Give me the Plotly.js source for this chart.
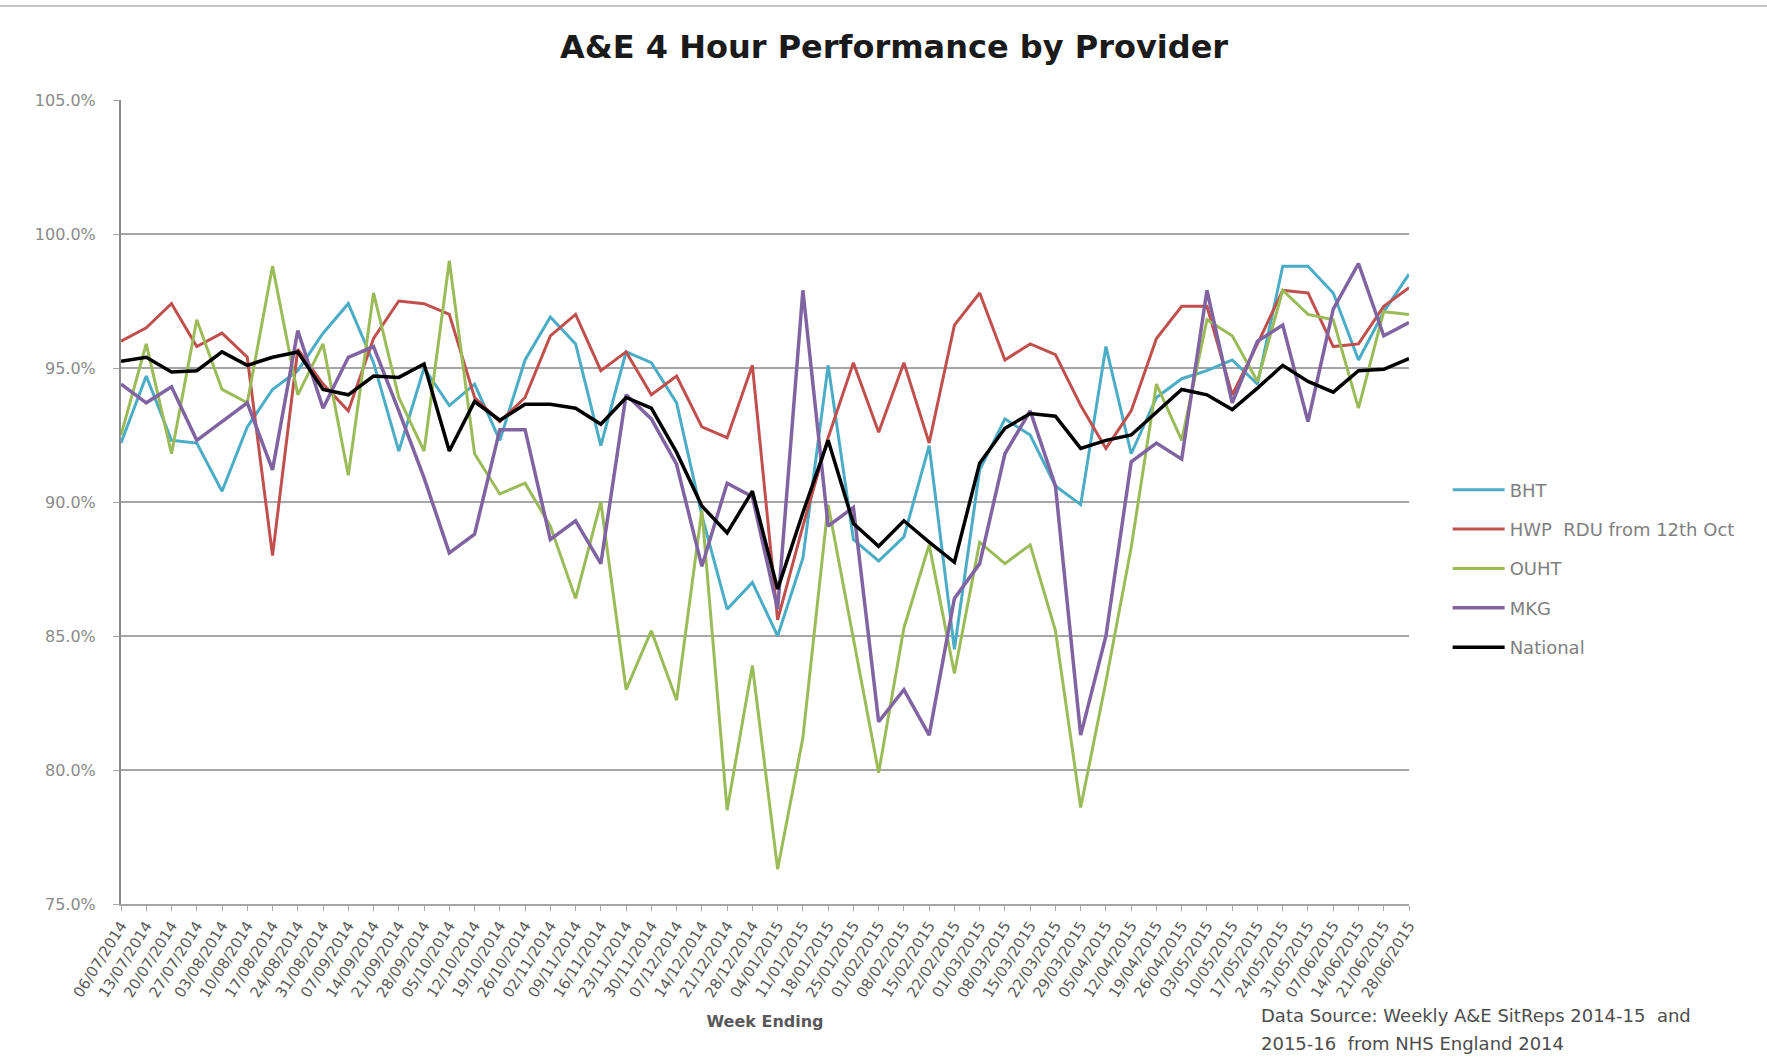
<!DOCTYPE html>
<html>
<head>
<meta charset="utf-8">
<script src="https://cdn.plot.ly/plotly-3.0.1.min.js"></script>
<style>
html,body{margin:0;padding:0;background:#fff;}
#chart{width:1767px;height:1058px;}
</style>
</head>
<body>
<div id="chart"></div>
<script>
const weeks = ["06/07/2014","13/07/2014","20/07/2014","27/07/2014","03/08/2014","10/08/2014","17/08/2014","24/08/2014","31/08/2014","07/09/2014","14/09/2014","21/09/2014","28/09/2014","05/10/2014","12/10/2014","19/10/2014","26/10/2014","02/11/2014","09/11/2014","16/11/2014","23/11/2014","30/11/2014","07/12/2014","14/12/2014","21/12/2014","28/12/2014","04/01/2015","11/01/2015","18/01/2015","25/01/2015","01/02/2015","08/02/2015","15/02/2015","22/02/2015","01/03/2015","08/03/2015","15/03/2015","22/03/2015","29/03/2015","05/04/2015","12/04/2015","19/04/2015","26/04/2015","03/05/2015","10/05/2015","17/05/2015","24/05/2015","31/05/2015","07/06/2015","14/06/2015","21/06/2015","28/06/2015"];

const bht = [92.2,94.7,92.3,92.2,90.4,92.8,94.2,94.9,96.3,97.4,95.2,91.9,95.0,93.6,94.4,92.3,95.3,96.9,95.9,92.1,95.6,95.2,93.7,89.5,86.0,87.0,85.0,87.9,95.1,88.6,87.8,88.7,92.1,84.5,91.2,93.1,92.5,90.6,89.9,95.8,91.8,93.9,94.6,94.9,95.3,94.4,98.8,98.8,97.8,95.3,97.1,98.5];
const hwp = [96.0,96.5,97.4,95.8,96.3,95.4,88.0,95.7,94.4,93.4,96.1,97.5,97.4,97.0,93.9,93.0,93.9,96.2,97.0,94.9,95.6,94.0,94.7,92.8,92.4,95.1,85.6,89.1,92.4,95.2,92.6,95.2,92.2,96.6,97.8,95.3,95.9,95.5,93.6,92.0,93.4,96.1,97.3,97.3,94.0,95.9,97.9,97.8,95.8,95.9,97.3,98.0];
const ouht = [92.5,95.9,91.8,96.8,94.2,93.7,98.8,94.0,95.9,91.0,97.8,93.9,91.9,99.0,91.8,90.3,90.7,89.1,86.4,90.0,83.0,85.2,82.6,89.7,78.5,83.9,76.3,81.2,89.9,84.9,79.9,85.3,88.4,83.6,88.5,87.7,88.4,85.2,78.6,83.3,88.3,94.4,92.3,96.8,96.2,94.5,97.9,97.0,96.8,93.5,97.1,97.0];
const mkg = [94.4,93.7,94.3,92.3,93.0,93.7,91.2,96.4,93.5,95.4,95.8,93.4,90.9,88.1,88.8,92.7,92.7,88.6,89.3,87.7,94.0,93.1,91.4,87.6,90.7,90.2,86.0,97.9,89.1,89.8,81.8,83.0,81.3,86.4,87.7,91.8,93.4,90.6,81.3,85.0,91.5,92.2,91.6,97.9,93.7,96.0,96.6,93.0,97.2,98.9,96.2,96.7];
const national = [95.25,95.4,94.85,94.9,95.6,95.1,95.4,95.6,94.2,94.0,94.7,94.65,95.15,91.9,93.75,93.05,93.65,93.65,93.5,92.9,93.9,93.5,91.85,89.85,88.85,90.4,86.75,89.6,92.3,89.2,88.35,89.3,88.5,87.75,91.45,92.75,93.3,93.2,92.0,92.3,92.5,93.35,94.2,94.0,93.45,94.25,95.1,94.5,94.1,94.9,94.95,95.35];

const seriesNames = ["BHT","HWP  RDU from 12th Oct","OUHT","MKG","National"];
const yTicks = [75,80,85,90,95,100,105];
const yTickText = yTicks.map(v => v.toFixed(1) + '%');

const colors = ["#4bacc6","#c0504d","#9bbb59","#8064a2","#000000"];
const widths = [3,3,3,3.5,3.5];
const allData = [bht,hwp,ouht,mkg,national];

const traces = allData.map((vals,i)=>({
  type:'scatter', mode:'lines', x:weeks, y:vals, name:seriesNames[i],
  legendgroup:'g'+i,
  line:{color:colors[i], width:widths[i]},
  hoverinfo:'x+y+name'
}));

const layout = {
  width:1767, height:1058,
  paper_bgcolor:'#ffffff', plot_bgcolor:'#ffffff',
  margin:{l:121, r:358, t:100, b:154},
  font:{family:'DejaVu Sans, sans-serif', color:'#595959'},
  title:{text:'A&E 4 Hour Performance by Provider', x:0.506, xanchor:'center', y:0.956, yanchor:'middle',
         font:{family:'DejaVu Sans, sans-serif', size:32, color:'#1a1a1a', weight:'bold'}},
  showlegend:true,
  legend:{x:1.03, xanchor:'left', y:0.538, yanchor:'top', tracegroupgap:13, itemwidth:52,
          font:{size:18, color:'#7f7f7f'}, bgcolor:'rgba(0,0,0,0)', traceorder:'grouped'},
  xaxis:{type:'category', range:[0,51], showgrid:false, zeroline:false,
         showline:true, linecolor:'#a6a6a6', linewidth:2,
         ticks:'outside', ticklen:5, tickcolor:'#a6a6a6', tickwidth:1,
         tickangle:-58, tickfont:{size:15, color:'#595959'},
         title:{text:'Week Ending', font:{size:16, color:'#595959', weight:'bold'}, standoff:16}},
  yaxis:{range:[75,105], tickmode:'array', tickvals:yTicks, ticktext:yTickText,
         showgrid:true, gridcolor:'#a6a6a6', gridwidth:2, zeroline:false,
         showline:true, linecolor:'#8c8c8c', linewidth:2,
         ticks:'outside', ticklen:6, tickcolor:'#a6a6a6',
         ticklabelstandoff:14,
         tickfont:{size:16, color:'#8a8a8a'}},
  shapes:[{type:'line', xref:'paper', yref:'paper', x0:-0.094, x1:1.278, y0:1.117, y1:1.117,
           line:{color:'#b0b0b0', width:1.5}}],
  annotations:[
    {xref:'paper', yref:'paper', x:0.8836, y:-0.139, xanchor:'left', yanchor:'middle',
      align:'left', showarrow:false,
      text:'Data Source: Weekly A&E SitReps 2014-15  and',
      font:{size:18, color:'#4d4d4d'}},
    {xref:'paper', yref:'paper', x:0.8836, y:-0.173, xanchor:'left', yanchor:'middle',
      align:'left', showarrow:false,
      text:'2015-16  from NHS England 2014',
      font:{size:18, color:'#4d4d4d'}}
  ]
};

Plotly.newPlot('chart', traces, layout, {displayModeBar:false, responsive:false});
</script>
</body>
</html>
